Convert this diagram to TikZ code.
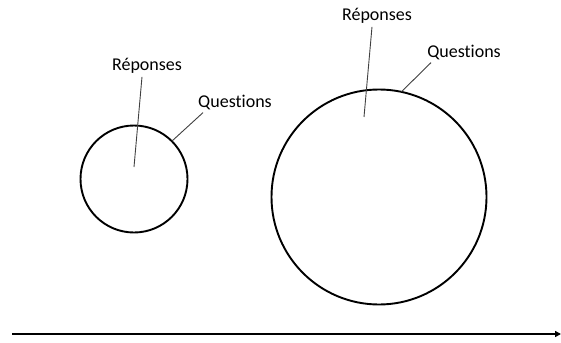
\documentclass[tikz,border=0pt]{standalone}
\usepackage{fontspec}
\setmainfont{Carlito}[Ligatures=NoCommon]
\usepackage{tikz}
\usetikzlibrary{arrows.meta,calc}
\tikzset{
  sizecircle/.style={circle,draw=black,line width=1.9pt,inner sep=0pt,outer sep=0pt},
  tag/.style={inner sep=0pt,font=\fontsize{18}{20}\selectfont},
  pointer/.style={draw=black!75,line width=0.9pt},
  axis/.style={-{Triangle[length=6pt,width=6pt]},line width=1.6pt}
}
\begin{document}
\begin{tikzpicture}[x=1pt,y=-1pt]
  \useasboundingbox (0,0) rectangle (561,342);
  % small circle
  \node[sizecircle,minimum size=107pt] (small) at (134,179) {};
  \node[tag] (rep1) at (147,66) {Réponses};
  \node[tag] (qst1) at (235,102) {Questions};
  \coordinate (rep1end) at (134,167);
  \draw[pointer] ($(rep1.south)+(-5,3)$) -- (rep1end);
  \draw[pointer] ($(qst1.south west)+(5,3)$) -- (small.45);
  % big circle
  \node[sizecircle,minimum size=215pt] (big) at (379,197) {};
  \node[tag] (rep2) at (377,16) {Réponses};
  \node[tag] (qst2) at (464,52) {Questions};
  \coordinate (rep2end) at (364,117);
  \draw[pointer] ($(rep2.south)+(-5,3)$) -- (rep2end);
  \draw[pointer] ($(qst2.south west)+(4,3)$) -- (big.78);
  % axis
  \coordinate (axstart) at (12,334);
  \coordinate (axend) at (561,334);
  \draw[axis] (axstart) -- (axend);
\end{tikzpicture}
\end{document}
